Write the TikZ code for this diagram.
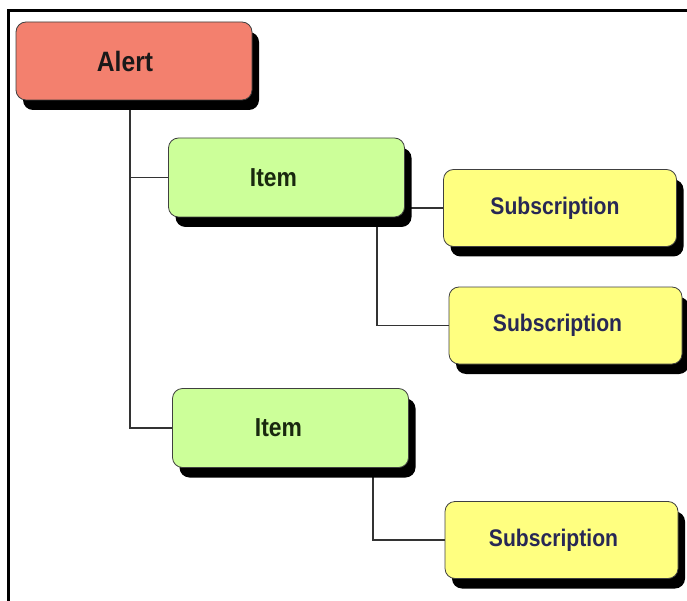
\documentclass[tikz,border=0pt]{standalone}
\usepackage{fontspec}
\newfontfamily\boxfont[FakeStretch=0.88]{Liberation Sans}
\usetikzlibrary{shadows,backgrounds}
\definecolor{alertfill}{RGB}{243,128,110}
\definecolor{itemfill}{RGB}{204,255,153}
\definecolor{subfill}{RGB}{255,255,128}
\definecolor{subtext}{RGB}{40,40,85}
\definecolor{itemtext}{RGB}{25,40,15}
\begin{document}
\begin{tikzpicture}[x=1pt,y=-1pt,
  box/.style={draw=black!75,line width=0.8pt,rounded corners=10pt,
    drop shadow={shadow xshift=7pt,shadow yshift=-10pt,fill=black,opacity=1},
    inner sep=0pt,font=\boxfont\bfseries},
  alertbox/.style={box,fill=alertfill,minimum width=236pt,minimum height=78pt,
    font=\boxfont\bfseries\fontsize{28}{32}\selectfont,text=black!90},
  itembox/.style={box,fill=itemfill,minimum width=236pt,minimum height=79pt,
    font=\boxfont\bfseries\fontsize{26}{30}\selectfont,text=itemtext},
  subbox/.style={box,fill=subfill,minimum width=233pt,minimum height=77pt,
    font=\boxfont\bfseries\fontsize{24}{28}\selectfont,text=subtext},
  conn/.style={draw=black!80,line width=1.3pt},
  frame/.style={draw=black,line width=2.6pt}]
\useasboundingbox (0,0) rectangle (687,601);
\coordinate (ftl) at (8.5,10.5);
\coordinate (ftr) at (687,10.5);
\coordinate (fbl) at (8.5,601);
\draw[frame] (ftr) -- (ftl) -- (fbl);

\node[alertbox] (alert) at (134,61) {Alert\hspace*{18pt}};
\node[itembox] (item1) at (286.5,177.5) {Item\hspace*{26pt}};
\node[itembox] (item2) at (290.5,428) {Item\hspace*{24pt}};
\node[subbox] (sub1) at (560,208) {\raisebox{-3pt}{Subscription}\hspace*{10pt}};
\node[subbox] (sub2) at (565.5,325.5) {\raisebox{-1pt}{Subscription}\hspace*{16pt}};
\node[subbox] (sub3) at (561.5,540) {\raisebox{-1pt}{Subscription}\hspace*{16pt}};

\coordinate (va) at (130,0);
\coordinate (vb) at (377,0);
\coordinate (vc) at (373,0);
\begin{scope}[on background layer]
\draw[conn] (alert.south -| va) -- (va |- item2.west) -- (item2.west);
\draw[conn] (va |- item1.west) -- (item1.west);
\draw[conn] (sub1.west) -- (sub1.west -| item1.east);
\draw[conn] (item1.south -| vb) |- (sub2.west);
\draw[conn] (item2.south -| vc) |- (sub3.west);
\end{scope}
\end{tikzpicture}
\end{document}
